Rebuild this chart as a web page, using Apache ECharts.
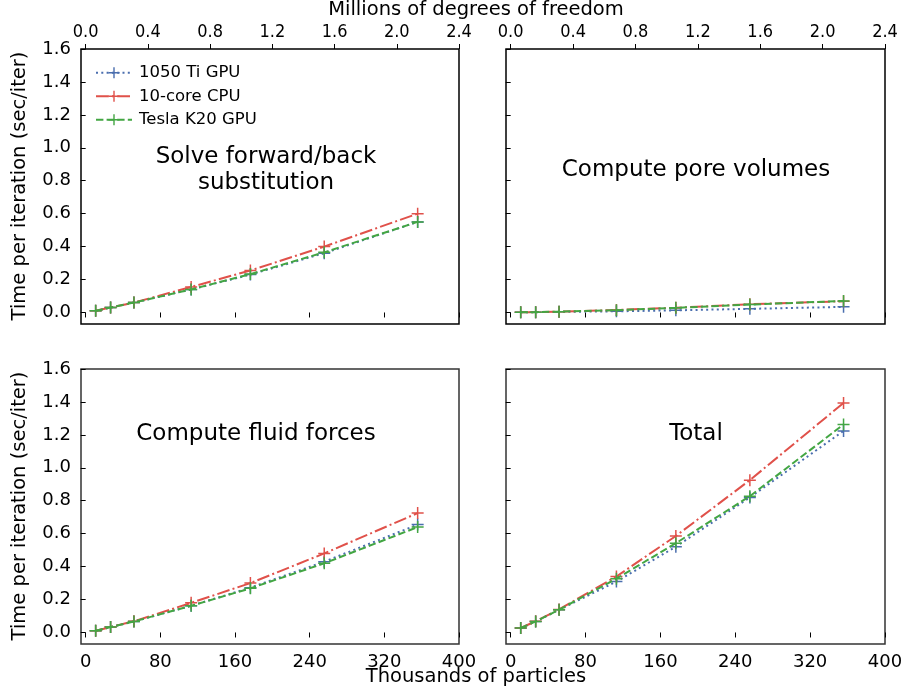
<!DOCTYPE html>
<html>
<head>
<meta charset="utf-8">
<script src="https://cdn.jsdelivr.net/npm/echarts@6/dist/echarts.min.js"></script>
<style>html,body{margin:0;padding:0;background:#fff}#c{width:906px;height:692px}</style>
</head>
<body>
<div id="c"></div>
<script>
// ---- data (thousands of particles) ----
const particles = [10.7, 26.7, 51.7, 113, 176.5, 255.6, 355.7];
const seriesNames = ['1050 Ti GPU', '10-core CPU', 'Tesla K20 GPU'];
const panelTitles = ['Solve forward/back\nsubstitution', 'Compute pore volumes', 'Compute fluid forces', 'Total'];

const solveGTX = [0.01, 0.03, 0.06, 0.14, 0.23, 0.36, 0.55];
const solveCPU = [0.01, 0.03, 0.06, 0.155, 0.255, 0.40, 0.60];
const solveK20 = [0.01, 0.03, 0.06, 0.14, 0.233, 0.365, 0.55];

const poreGTX = [0.001, 0.002, 0.004, 0.007, 0.013, 0.022, 0.034];
const poreCPU = [0.001, 0.002, 0.005, 0.015, 0.029, 0.05, 0.068];
const poreK20 = [0.001, 0.002, 0.005, 0.014, 0.028, 0.048, 0.07];

const fluidGTX = [0.01, 0.033, 0.067, 0.162, 0.272, 0.43, 0.655];
const fluidCPU = [0.01, 0.033, 0.068, 0.18, 0.30, 0.48, 0.725];
const fluidK20 = [0.01, 0.033, 0.067, 0.162, 0.268, 0.42, 0.64];

const totalGTX = [0.027, 0.067, 0.138, 0.309, 0.521, 0.82, 1.224];
const totalCPU = [0.027, 0.068, 0.14, 0.34, 0.586, 0.925, 1.394];
const totalK20 = [0.027, 0.067, 0.138, 0.327, 0.542, 0.828, 1.263];

const xTicks = [0, 80, 160, 240, 320, 400];
const dofTicks = [0.0, 0.4, 0.8, 1.2, 1.6, 2.0, 2.4];
const yTicks = [0.0, 0.2, 0.4, 0.6, 0.8, 1.0, 1.2, 1.4, 1.6];

const panels = [
  [solveGTX, solveCPU, solveK20],
  [poreGTX, poreCPU, poreK20],
  [fluidGTX, fluidCPU, fluidK20],
  [totalGTX, totalCPU, totalK20]
];

// ---- styling ----
const FONT = 'DejaVu Sans';
const colors = ['#4a6eae', '#e0514a', '#43a643'];
const dashes = [[2, 3.3], [12.8, 3.2, 2, 3.2], [7.4, 3.2]];
const plus = 'path://M5.25,0h1.5v5.25h5.25v1.5h-5.25v5.25h-1.5v-5.25h-5.25v-1.5h5.25z';

const grids = [
  {left: 81, top: 49, width: 378, height: 275},
  {left: 506, top: 49, width: 379, height: 275},
  {left: 81, top: 369, width: 378, height: 275},
  {left: 506, top: 369, width: 379, height: 275}
];
const frameColor = ['#000', '#000', '#333', '#333'];

const option = {
  animation: false,
  grid: grids.map((g, i) => Object.assign({show: true, borderColor: frameColor[i], borderWidth: 1.5, backgroundColor: 'transparent'}, g)),
  xAxis: [],
  yAxis: [],
  series: [],
  legend: {
    data: seriesNames,
    orient: 'vertical',
    left: 90, top: 59,
    itemWidth: 36, itemHeight: 14, itemGap: 6,
    textStyle: {fontFamily: FONT, fontSize: 16.5, lineHeight: 17.5, color: '#000', padding: [0, 0, 0, 2]}
  },
  graphic: []
};

for (let i = 0; i < 4; i++) {
  const isBottom = i >= 2, isLeft = i % 2 === 0;
  option.xAxis.push({
    type: 'value', gridIndex: i, position: 'bottom', min: -5, max: 400,
    axisLine: {show: false},
    splitLine: {show: false},
    axisTick: {show: true, inside: false, length: 5, lineStyle: {color: '#000', width: 1}, customValues: xTicks},
    axisLabel: {show: isBottom, customValues: xTicks, fontFamily: FONT, fontSize: 18, color: '#000', margin: 9}
  });
  option.yAxis.push({
    type: 'value', gridIndex: i, min: -0.07, max: 1.6,
    axisLine: {show: false},
    splitLine: {show: false},
    axisTick: {show: true, inside: false, length: 5, lineStyle: {color: '#000', width: 1}, customValues: yTicks},
    axisLabel: {show: isLeft, customValues: yTicks, fontFamily: FONT, fontSize: 18, color: '#000', margin: 10,
      formatter: v => v.toFixed(1)}
  });
}
// top secondary axes (degrees of freedom) for the top panels
for (let i = 0; i < 2; i++) {
  option.xAxis.push({
    type: 'value', gridIndex: i, position: 'top', min: -0.03, max: 2.4,
    axisLine: {show: false},
    splitLine: {show: false},
    axisTick: {show: true, inside: false, length: 5, lineStyle: {color: '#000', width: 1}, customValues: dofTicks},
    axisLabel: {show: true, customValues: dofTicks, fontFamily: 'DejaVu Sans Condensed, DejaVu Sans', fontSize: 18, color: '#000', margin: 8,
      formatter: v => v.toFixed(1)}
  });
}

for (let i = 0; i < 4; i++) {
  for (let s = 0; s < 3; s++) {
    option.series.push({
      name: seriesNames[s], type: 'line', xAxisIndex: i, yAxisIndex: i,
      data: particles.map((x, k) => [x, panels[i][s][k]]),
      symbol: plus, symbolSize: 12, symbolKeepAspect: true,
      showSymbol: true,
      itemStyle: {color: colors[s]},
      lineStyle: {color: colors[s], width: 2, type: dashes[s]},
      z: 2 + s
    });
  }
}

// panel titles
const titlePos = [[266, 170], [696, 170], [256, 434], [696, 434]];
panelTitles.forEach((t, i) => {
  option.graphic.push({type: 'text', x: titlePos[i][0], y: titlePos[i][1],
    style: {text: t, fontFamily: FONT, fontSize: 23, fill: '#000', align: 'center', verticalAlign: 'middle', lineHeight: 26}});
});
// axis titles
option.graphic.push({type: 'text', x: 476, y: 10, style: {text: 'Millions of degrees of freedom', fontFamily: FONT, fontSize: 19.5, fill: '#000', align: 'center', verticalAlign: 'middle'}});
option.graphic.push({type: 'text', x: 476, y: 677, style: {text: 'Thousands of particles', fontFamily: FONT, fontSize: 19.5, fill: '#000', align: 'center', verticalAlign: 'middle'}});
[186, 506].forEach(yc => {
  option.graphic.push({type: 'text', x: 20, y: yc, rotation: Math.PI / 2,
    style: {text: 'Time per iteration (sec/iter)', fontFamily: FONT, fontSize: 19.5, fill: '#000', align: 'center', verticalAlign: 'middle'}});
});

const chart = echarts.init(document.getElementById('c'), null, {renderer: 'canvas'});
chart.setOption(option);
</script>
</body>
</html>
